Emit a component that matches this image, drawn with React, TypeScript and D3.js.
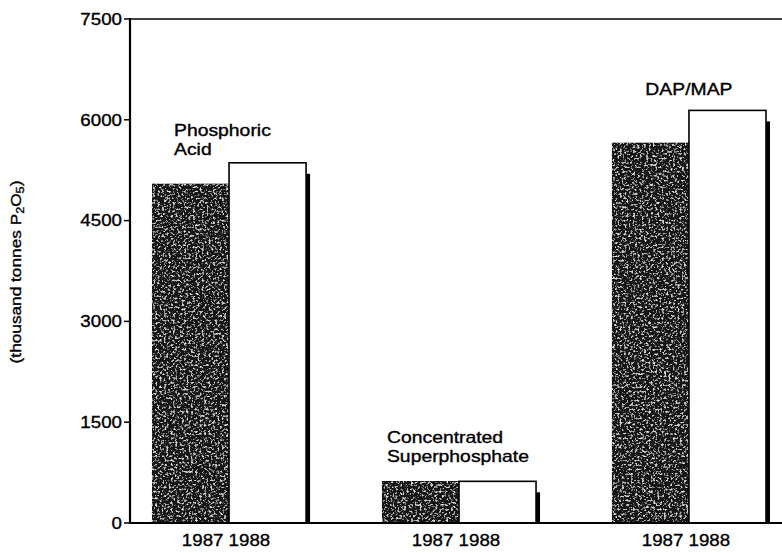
import React from "react";
import * as d3 from "d3";

const categories = ["Phosphoric Acid", "Concentrated Superphosphate", "DAP/MAP"];
const categoryLines = [["Phosphoric", "Acid"], ["Concentrated", "Superphosphate"], ["DAP/MAP"]];
const years = ["1987", "1988"];
const values1987 = [5050, 625, 5660];
const values1988 = [5360, 620, 6140];
const yTicks = [0, 1500, 3000, 4500, 6000, 7500];

const W = 782;
const H = 553;
const FONT = "'Liberation Sans', Arial, Helvetica, sans-serif";
// annotation layout (left offset from band start, gap above tallest bar)
const labelLayout = [
  { dx: 22, gap: 8, anchor: "start" },
  { dx: 5, gap: 19, anchor: "start" },
  { dx: 77, gap: 15, anchor: "middle" },
];

export default function App() {
  const y = d3.scaleLinear().domain([0, 7500]).range([523, 19]);
  const x = d3
    .scaleBand<string>()
    .domain(categories)
    .range([129, 789])
    .paddingInner(0.33)
    .paddingOuter(0.1);
  const xi = d3.scaleBand<string>().domain(years).range([0, x.bandwidth()]);
  const axisX = 130;
  const base = y(0);
  const sx = 1.17;
  const ts = { stroke: "#000", strokeWidth: 0.35 };

  return (
    <svg
      width={W}
      height={H}
      style={{ position: "absolute", left: 0, top: 0, background: "#fff" }}
      fontFamily={FONT}
    >
      <defs>
        <filter id="grain" x="0" y="0" width="1" height="1" filterUnits="objectBoundingBox">
          <feTurbulence type="fractalNoise" baseFrequency="0.45" numOctaves="4" seed="11" result="noise" />
          <feColorMatrix
            in="noise"
            type="matrix"
            values="0 0 0 0 0.75  0 0 0 0 0.75  0 0 0 0 0.75  4.5 0 0 0 -2.45"
            result="speck"
          />
          <feMerge>
            <feMergeNode in="SourceGraphic" />
            <feMergeNode in="speck" />
          </feMerge>
        </filter>
      </defs>
      <rect x={0} y={0} width={W} height={H} fill="#fff" />

      {/* bars */}
      {categories.map((c, i) => {
        const x0 = x(c)!;
        const dX = x0 + xi("1987")!;
        const wX = x0 + xi("1988")!;
        const bw = xi.bandwidth();
        const v7 = values1987[i];
        const v8 = values1988[i];
        return (
          <g key={c}>
            <rect
              x={dX}
              y={y(v7)}
              width={bw}
              height={base - y(v7)}
              fill="#161616"
              filter="url(#grain)"
            />
            <rect
              x={wX + bw - 1}
              y={y(v8) + 11}
              width={5}
              height={base - y(v8) - 11}
              fill="#000"
            />
            <rect
              x={wX}
              y={y(v8)}
              width={bw}
              height={base - y(v8)}
              fill="#fff"
              stroke="#000"
              strokeWidth={1.6}
            />
          </g>
        );
      })}

      {/* frame lines */}
      <line x1={axisX} x2={W} y1={y(7500)} y2={y(7500)} stroke="#000" strokeWidth={1.6} />
      <line x1={axisX} x2={W} y1={base} y2={base} stroke="#000" strokeWidth={2.2} />
      <line x1={axisX} x2={axisX} y1={y(7500) - 1} y2={base + 1} stroke="#000" strokeWidth={2.2} />

      {/* y ticks */}
      {yTicks.map((t) => (
        <g key={t}>
          <line x1={axisX - 6} x2={axisX} y1={y(t)} y2={y(t)} stroke="#000" strokeWidth={1.5} />
          <text
            transform={`translate(${axisX - 8},${y(t)}) scale(${sx},1)`}
            textAnchor="end"
            dy="0.36em"
            fontSize={16}
            fill="#000"
            {...ts}
          >
            {t}
          </text>
        </g>
      ))}

      {/* x labels */}
      {categories.map((c) => (
        <text
          key={c}
          transform={`translate(${x(c)! + x.bandwidth() / 2 - 3},${546}) scale(1.1,1)`}
          textAnchor="middle"
          fontSize={17}
          fill="#000"
          {...ts}
        >
          {years.join(" ")}
        </text>
      ))}

      {/* category annotations */}
      {categories.map((c, i) => {
        const lay = labelLayout[i];
        const top = y(Math.max(values1987[i], values1988[i]));
        const lines = categoryLines[i];
        const lh = 19;
        return (
          <g key={c}>
            {lines.map((ln, j) => (
              <text
                key={ln}
                transform={`translate(${x(c)! + lay.dx},${top - lay.gap - (lines.length - 1 - j) * lh}) scale(1.21,1)`}
                textAnchor={lay.anchor as any}
                fontSize={16}
                fill="#000"
                {...ts}
              >
                {ln}
              </text>
            ))}
          </g>
        );
      })}

      {/* y title */}
      <text
        transform={`translate(21,272) rotate(-90) scale(1.15,1)`}
        textAnchor="middle"
        fontSize={15}
        fill="#000"
        {...ts}
      >
        (thousand tonnes P
        <tspan fontSize={11} dy={3}>2</tspan>
        <tspan dy={-3}>O</tspan>
        <tspan fontSize={11} dy={3}>5</tspan>
        <tspan dy={-3}>)</tspan>
      </text>
    </svg>
  );
}
